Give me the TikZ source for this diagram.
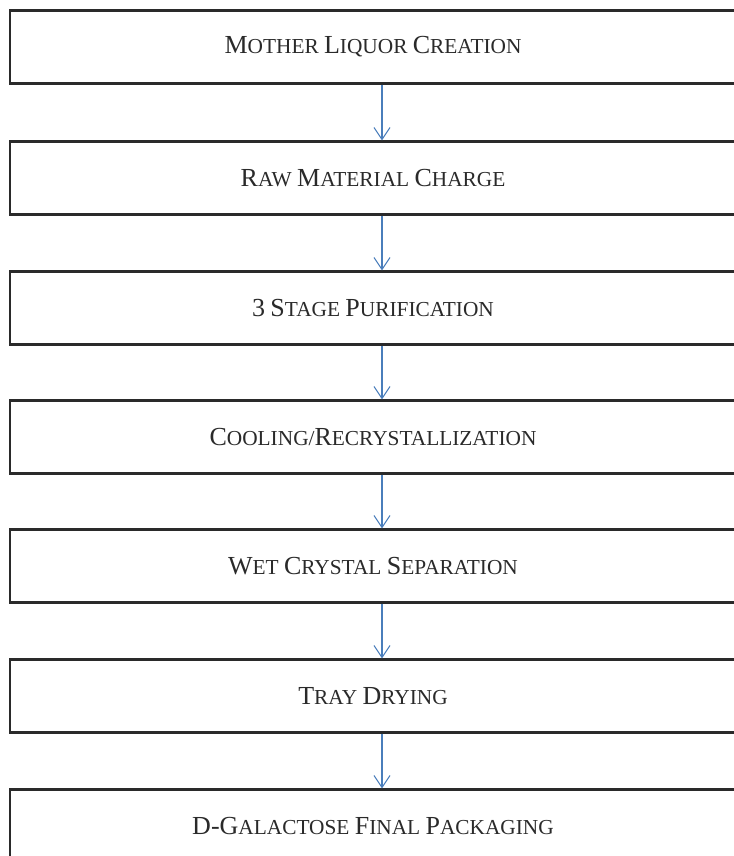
\documentclass[tikz,border=0pt]{standalone}
\usepackage{fontspec}
\setmainfont{Liberation Serif}
\usepackage{xcolor}
\usetikzlibrary{arrows.meta, positioning}
\definecolor{flowcolor}{HTML}{4A7EBB}
\definecolor{edgecolor}{HTML}{2A2A2A}
\newcommand{\bigcapital}[1]{{\fontsize{19.5}{19.5}\selectfont #1}}

\begin{document}
\begin{tikzpicture}[
    x=0.75pt, y=-0.75pt,
    box/.style={rectangle, draw=edgecolor, line width=1.6pt, fill=white, minimum width=544.5pt, minimum height=54.75pt, inner sep=0pt, font=\fontsize{16}{16}\selectfont, text=edgecolor},
    flow/.style={-{Straight Barb[length=9pt, width=12pt]}, line width=0.8pt, flowcolor}
]
\useasboundingbox (0,0) rectangle (734,856);

% -- STAGES --
\node[box] (mother) at (373,47) {\bigcapital{M}OTHER \bigcapital{L}IQUOR \bigcapital{C}REATION};
\node[box] (charge) at (373,178) {\bigcapital{R}AW \bigcapital{M}ATERIAL \bigcapital{C}HARGE};
\node[box] (purify) at (373,308) {\bigcapital{3} \bigcapital{S}TAGE \bigcapital{P}URIFICATION};
\node[box] (cool) at (373,437) {\bigcapital{C}OOLING/\bigcapital{R}ECRYSTALLIZATION};
\node[box] (separate) at (373,566) {\bigcapital{W}ET \bigcapital{C}RYSTAL \bigcapital{S}EPARATION};
\node[box] (dry) at (373,696) {\bigcapital{T}RAY \bigcapital{D}RYING};
\node[box] (pack) at (373,826) {\bigcapital{D-G}ALACTOSE \bigcapital{F}INAL \bigcapital{P}ACKAGING};

% -- ARROWS --
\draw[flow] ([xshift=6.75pt]mother.south) -- ([xshift=6.75pt]charge.north);
\draw[flow] ([xshift=6.75pt]charge.south) -- ([xshift=6.75pt]purify.north);
\draw[flow] ([xshift=6.75pt]purify.south) -- ([xshift=6.75pt]cool.north);
\draw[flow] ([xshift=6.75pt]cool.south) -- ([xshift=6.75pt]separate.north);
\draw[flow] ([xshift=6.75pt]separate.south) -- ([xshift=6.75pt]dry.north);
\draw[flow] ([xshift=6.75pt]dry.south) -- ([xshift=6.75pt]pack.north);

\end{tikzpicture}
\end{document}
